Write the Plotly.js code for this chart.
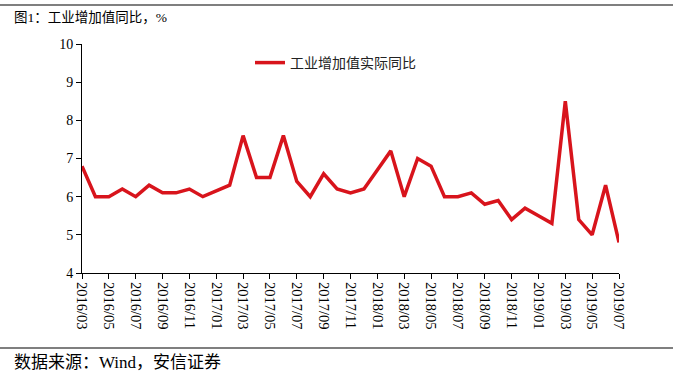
<!DOCTYPE html>
<html>
<head>
<meta charset="utf-8">
<script src="https://cdn.plot.ly/plotly-3.0.1.min.js"></script>
<style>html,body{margin:0;padding:0;background:#fff;}#chart{width:673px;height:374px;}</style>
</head>
<body>
<div id="chart"></div>
<script>
const months = [
  "2016/03","2016/04","2016/05","2016/06","2016/07","2016/08","2016/09","2016/10","2016/11","2016/12",
  "2017/01","2017/02","2017/03","2017/04","2017/05","2017/06","2017/07","2017/08","2017/09","2017/10","2017/11","2017/12",
  "2018/01","2018/02","2018/03","2018/04","2018/05","2018/06","2018/07","2018/08","2018/09","2018/10","2018/11","2018/12",
  "2019/01","2019/02","2019/03","2019/04","2019/05","2019/06","2019/07"
];
const iavYoY = [
  6.8,6.0,6.0,6.2,6.0,6.3,6.1,6.1,6.2,6.0,
  6.15,6.3,7.6,6.5,6.5,7.6,6.4,6.0,6.6,6.2,6.1,6.2,
  6.7,7.2,6.0,7.0,6.8,6.0,6.0,6.1,5.8,5.9,5.4,5.7,
  5.5,5.3,8.5,5.4,5.0,6.3,4.8
];
const xTickLabels = [
  "2016/03","2016/05","2016/07","2016/09","2016/11","2017/01","2017/03","2017/05","2017/07","2017/09","2017/11",
  "2018/01","2018/03","2018/05","2018/07","2018/09","2018/11","2019/01","2019/03","2019/05","2019/07"
];
const yTicks = [4,5,6,7,8,9,10];
const seriesName = "工业增加值实际同比";
const chartTitle = "图1：工业增加值同比，%";
const sourceText = "数据来源：Wind，安信证券";

const FONT = "Liberation Serif, Noto Sans CJK SC, serif";
const L = 82, R = 619, T = 44, B = 273, W = 673, H = 374;
const px = x => (x - L) / (R - L);
const py = y => (B - y) / (B - T);

const trace = {
  x: months, y: iavYoY, type: 'scatter', mode: 'lines', name: seriesName,
  line: {color: '#d8141c', width: 3.5}
};

const layout = {
  width: W, height: H,
  margin: {l: L, r: W - R, t: T, b: H - B, pad: 0},
  paper_bgcolor: '#fff', plot_bgcolor: '#fff',
  font: {family: FONT, color: '#000', size: 13},
  showlegend: true,
  legend: {x: px(250), y: py(47), xanchor: 'left', yanchor: 'top', bgcolor: 'rgba(0,0,0,0)',
           font: {family: "Noto Sans CJK SC", size: 14, color: '#222'}},
  xaxis: {
    type: 'category', range: [0, months.length - 1],
    tickmode: 'array', tickvals: xTickLabels, ticktext: xTickLabels,
    tickangle: 90, ticks: 'outside', ticklen: 5, tickcolor: '#000',
    showline: true, linecolor: '#000', linewidth: 1, showgrid: false, zeroline: false,
    tickfont: {family: FONT, size: 14.5, color: '#000'}
  },
  yaxis: {
    range: [4, 10], tickmode: 'array', tickvals: yTicks,
    ticks: 'outside', ticklen: 5, tickcolor: '#000',
    showline: true, linecolor: '#000', linewidth: 1, showgrid: false, zeroline: false,
    tickfont: {family: FONT, size: 14, color: '#000'}
  },
  shapes: [
    {type: 'line', xref: 'paper', yref: 'paper', x0: px(0), x1: px(W), y0: py(5), y1: py(5), line: {color: '#000', width: 1.2}},
    {type: 'line', xref: 'paper', yref: 'paper', x0: px(0), x1: px(W), y0: py(348), y1: py(348), line: {color: '#000', width: 1.2}}
  ],
  annotations: [
    {text: chartTitle, xref: 'paper', yref: 'paper', x: px(12), y: py(18), xanchor: 'left', yanchor: 'middle',
     showarrow: false, font: {family: FONT, size: 13.5, color: '#000'}},
    {text: sourceText, xref: 'paper', yref: 'paper', x: px(12), y: py(362), xanchor: 'left', yanchor: 'middle',
     showarrow: false, font: {family: FONT, size: 17, color: '#000'}}
  ]
};

Plotly.newPlot('chart', [trace], layout, {displayModeBar: false, staticPlot: true});
</script>
</body>
</html>
